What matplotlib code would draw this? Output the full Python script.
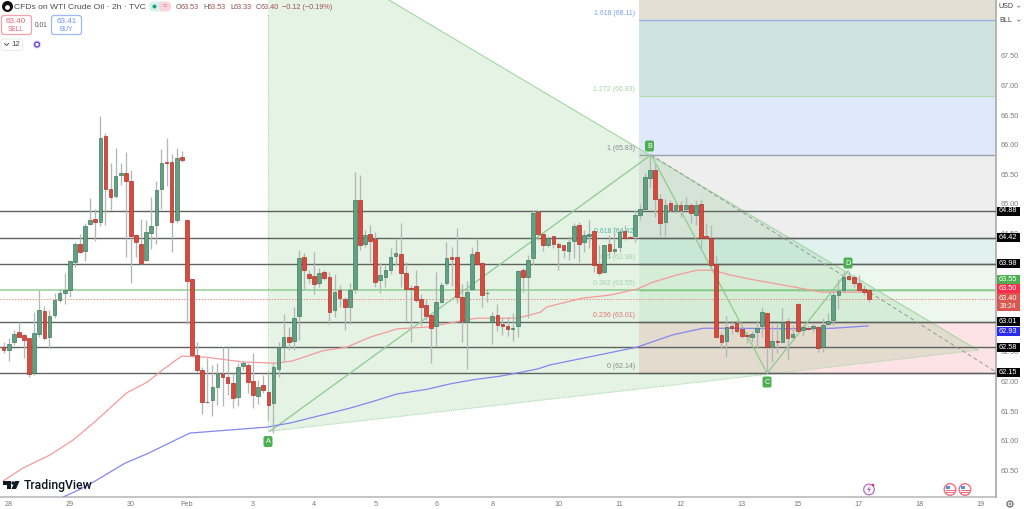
import matplotlib
matplotlib.use("Agg")
import matplotlib.pyplot as plt
from matplotlib.patches import Rectangle, FancyBboxPatch, Circle, Polygon

plt.rcParams['font.family'] = ['Liberation Sans', 'DejaVu Sans']

# ---- data ----
opens = [62.58,62.53,62.66,62.83,62.78,62.73,62.14,62.81,63.19,62.75,
63.12,63.38,63.50,63.55,64.02,64.33,64.21,64.66,64.74,64.70,
66.14,65.26,65.14,65.48,65.53,65.39,64.47,64.33,64.05,64.51,
64.65,65.26,65.71,65.70,64.72,65.79,64.73,63.73,62.45,62.20,
61.66,61.68,61.91,62.12,62.07,61.97,61.74,62.27,62.28,62.01,
61.76,61.94,61.82,61.63,62.22,62.59,62.75,62.69,63.11,64.10,
63.81,63.79,63.67,63.85,63.76,63.20,63.54,63.39,63.26,63.56,
65.07,64.33,64.50,64.41,63.71,63.77,63.89,64.12,64.15,63.83,
63.58,63.61,63.39,63.29,63.13,62.94,63.35,63.66,64.10,64.10,
63.42,63.01,63.56,64.18,64.01,63.49,63.00,63.13,62.98,62.94,
62.89,62.93,63.88,63.77,64.08,64.87,64.50,64.31,64.45,64.33,
64.30,64.21,64.37,64.64,64.35,64.46,64.54,63.98,63.85,64.32,
64.21,64.27,64.55,64.44,64.45,64.81,64.92,65.43,65.57,65.09,
64.70,65.01,64.89,64.99,64.92,64.99,64.82,65.00,64.46,64.43,
63.98,62.78,62.68,62.94,62.99,62.88,62.79,62.76,62.83,62.93,
63.16,62.60,62.69,62.67,63.03,62.75,63.31,62.87,62.90,62.91,
62.92,62.58,62.97,63.04,63.47,63.55,63.78,63.76,63.67,63.57,
63.54]
closes = [62.54,62.64,62.81,62.76,62.71,62.13,62.82,63.20,62.73,63.10,
63.38,63.49,63.55,64.03,64.32,64.19,64.63,64.73,64.70,66.12,
65.25,65.12,65.47,65.52,65.38,64.46,64.35,64.01,64.52,64.63,
65.24,65.69,65.69,64.69,65.77,65.74,63.69,62.44,62.20,61.66,
61.65,61.90,62.13,62.07,61.97,61.72,62.24,62.32,61.99,61.78,
61.90,61.85,61.61,62.24,62.58,62.76,62.66,63.08,64.08,63.89,
63.75,63.65,63.84,63.75,63.18,63.52,63.41,63.26,63.54,65.07,
64.31,64.47,64.38,63.68,63.80,63.88,64.11,64.17,63.84,63.56,
63.57,63.38,63.26,63.11,62.91,63.35,63.63,64.08,64.07,63.42,
63.03,63.52,64.15,63.98,63.47,63.49,63.10,62.95,62.94,62.89,
62.90,63.86,63.76,64.06,64.85,64.50,64.31,64.42,64.32,64.28,
64.22,64.35,64.63,64.33,64.47,64.50,63.97,63.83,64.30,64.20,
64.24,64.52,64.42,64.43,64.81,64.92,65.45,65.58,65.08,64.68,
64.99,64.89,64.99,64.90,64.98,64.85,64.98,64.43,64.42,63.96,
62.76,62.67,62.92,62.90,62.86,62.77,62.77,62.81,62.91,63.17,
62.59,62.68,62.66,63.01,62.73,62.80,62.86,62.92,62.89,62.94,
62.57,62.95,63.03,63.46,63.53,63.77,63.73,63.66,63.54,63.52,
63.40]
highs = [62.67,62.73,62.87,63.01,62.81,62.73,63.18,63.54,63.27,63.21,
63.49,63.57,63.84,64.05,64.36,64.49,64.68,65.10,64.92,66.49,
66.20,65.69,65.94,65.69,65.87,65.58,64.50,64.74,64.72,65.12,
65.38,65.92,66.12,65.85,65.94,65.89,64.74,63.74,62.66,62.25,
62.39,62.28,62.31,62.58,62.58,62.14,62.31,62.34,62.31,62.48,
62.03,62.11,62.17,62.32,62.67,63.14,62.92,63.26,64.22,64.17,
63.89,64.18,63.91,63.88,63.85,63.81,63.63,63.43,63.66,65.54,
65.48,64.56,64.65,64.53,64.01,63.97,64.26,64.43,64.68,64.02,
63.63,63.88,63.48,63.40,63.15,63.85,63.68,64.35,64.27,64.59,
63.64,63.69,64.27,64.42,64.02,63.57,63.18,63.31,63.07,63.09,
63.15,63.89,63.91,64.14,64.90,64.90,64.50,64.45,64.46,64.35,
64.30,64.46,64.67,64.70,64.56,64.73,64.56,64.30,64.30,64.47,
64.61,64.57,64.64,64.45,64.90,65.00,65.52,65.83,65.68,65.17,
65.09,65.07,65.04,65.05,65.12,65.01,65.07,65.08,64.67,64.64,
64.14,62.84,63.10,63.01,63.04,62.94,62.84,62.85,63.04,63.26,
63.17,62.95,62.98,63.24,63.07,62.95,63.32,62.95,62.93,62.98,
62.93,63.08,63.15,63.53,63.74,63.87,63.86,63.80,63.80,63.63,
63.56]
lows = [62.48,62.35,62.62,62.75,62.39,62.08,62.11,62.76,62.70,62.56,
63.07,63.35,63.31,63.43,63.93,64.17,64.04,64.64,64.37,64.63,
64.64,64.90,65.10,65.32,64.11,63.66,64.11,63.99,64.04,64.24,
64.32,64.91,65.30,64.19,64.68,65.70,62.98,62.42,62.16,61.45,
61.64,61.41,61.60,61.59,61.77,61.55,61.59,62.20,61.80,61.56,
61.62,61.80,61.35,61.13,62.08,62.35,62.53,62.54,62.70,63.54,
63.67,63.48,63.60,63.71,62.97,63.09,63.26,62.87,62.98,63.49,
64.22,64.28,64.02,63.60,63.49,63.60,63.81,63.97,63.59,63.03,
62.67,63.35,62.94,63.04,62.32,62.60,63.33,63.63,63.61,63.32,
62.67,62.22,63.54,63.97,63.26,63.35,62.63,62.86,62.79,62.77,
62.69,62.76,63.52,63.07,63.97,64.39,64.21,64.27,64.25,63.88,
64.08,64.06,64.08,64.02,64.19,64.25,63.85,63.80,63.83,64.08,
64.16,64.19,64.39,64.42,64.36,64.73,64.90,65.29,64.78,64.45,
64.45,64.87,64.84,64.78,64.90,64.67,64.64,64.22,64.39,63.94,
62.73,62.56,62.42,62.81,62.82,62.73,62.65,62.67,62.56,62.76,
62.15,62.33,62.48,62.66,62.37,62.73,62.86,62.77,62.87,62.84,
62.50,62.50,62.95,62.95,63.22,63.50,63.71,63.60,63.52,63.46,
63.35]

red_ma_x = [-0.1,3.8,9.1,13.6,17.9,24.2,28.2,30.7,33.3,35.0,39.9,47.0,53.7,56.8,62.7,67.4,72.0,
            77.3,83.2,87.7,93.0,100.8,102.8,105.4,106.7,113.8,119.1,124.4,127.6,132.3,136.2,139.4,
            142.7,146.6,153.1,160.8,168.8,170.0]
red_ma_y = [60.32,60.54,60.76,61.01,61.32,61.81,61.99,62.16,62.33,62.43,62.41,62.33,62.31,62.35,62.52,62.58,62.75,
            62.89,62.92,62.99,63.07,63.07,63.11,63.17,63.26,63.41,63.46,63.56,63.68,63.80,63.88,63.88,
            63.80,63.73,63.63,63.51,63.51,63.51]
blue_ma_x = [11.7,15.0,17.6,23.8,28.2,33.7,36.6,51.7,54.3,56.3,68.0,72.0,77.3,83.2,87.7,92.2,97.5,
             104.8,107.3,124.4,131.5,137.4,143.3,157.8,163.0,169.8]
blue_ma_y = [60.05,60.18,60.30,60.62,60.78,61.01,61.13,61.23,61.27,61.30,61.55,61.65,61.79,61.87,61.96,62.03,62.09,
             62.21,62.28,62.58,62.79,62.90,62.90,62.89,62.90,62.94]

hlines = [64.88, 64.42, 63.98, 63.01, 62.58, 62.15]
green_hline = 63.55
last_price = 63.40
fib_levels = [62.14, 63.01, 63.98, 64.42, 65.83, 66.83, 68.11, 68.444]
fib_colors = ['#fde3e5', '#eef7ee', '#e0f1ee', '#eeeeee', '#dfe9fb', '#cfe3df', '#e3dfd3']
fib_labels = ['0 (62.14)', '0.236 (63.01)', '0.382 (63.55)', '0.5 (63.98)', '0.618 (64.42)',
              '1 (65.83)', '1.272 (66.83)', '1.618 (68.11)']
fib_label_prices = [62.14, 63.01, 63.55, 63.98, 64.42, 65.83, 66.83, 68.11]
fib_label_colors = ['#8a8a8a', '#e57373', '#a5d6a7', '#a5d6a7', '#4db6ac', '#8a8a8a', '#a5d6a7', '#7aa2f7']
fib_line_colors = ['#6f6f6f', '#6f6f6f', '#66bb6a', '#6f6f6f', '#6f6f6f', '#a0a0a8', '#b5dcb8', '#93b4e4']

point_a = (52.3, 61.16)
point_b = (127.2, 65.83)
point_c = (150.0, 62.14)
point_d = (165.9, 63.87)
point_x = (51.9, 69.66)
apex = (191.4, 62.53)
dash_end = (195.0, 62.16)

price_ticks = [60.5, 61, 61.5, 62, 62.5, 64.5, 65, 65.5, 66, 66.5, 67, 67.5]
day_pos = [1, 13, 25, 36, 49, 61, 73, 85, 96, 109, 121, 133, 145, 156, 168, 180, 192]
day_labels = ['28', '29', '30', 'Feb', '3', '4', '5', '6', '8', '10', '11', '12', '13', '15', '17', '18', '19']

# ---- figure ----
W, H = 1024, 509
fig = plt.figure(figsize=(W / 100, H / 100), dpi=100, facecolor='white')
ax = fig.add_axes([0, 12 / H, 996 / W, 497 / H])
ax.set_xlim(-0.72, 194.96)
ax.set_ylim(60.05, 68.444)
ax.set_facecolor('white')

# fib bands
fib_x0 = 124.8
for lo, hi, col in zip(fib_levels[:-1], fib_levels[1:], fib_colors):
    ax.axhspan(lo, hi, xmin=(fib_x0 + 0.72) / 195.68, xmax=1, color=col, lw=0, zorder=1)
for lvl, col in zip([62.14, 63.01, 63.55, 63.98, 64.42, 65.83, 66.83, 68.11], fib_line_colors):
    ax.hlines(lvl, fib_x0, 194.96, color=col, lw=1.0, zorder=1.5)

# triangle
ax.add_patch(Polygon([point_x, apex, point_a], closed=True, facecolor='#4caf50', alpha=0.15, lw=0, zorder=2))
ax.plot([point_x[0], apex[0]], [point_x[1], apex[1]], color='#a5d6a7', lw=0.8, zorder=2.2)
ax.plot([point_a[0], apex[0]], [point_a[1], apex[1]], color='#a5d6a7', lw=0.8, ls=(0, (1, 1)), zorder=2.2)
ax.plot([point_x[0], point_x[0]], [61.16, 68.2], color='#a5d6a7', lw=0.8, ls=(0, (1, 1)), zorder=2.2)

# horizontal levels
for p in hlines:
    ax.axhline(p, color='#5f6360', lw=1.0, zorder=3)
ax.axhline(green_hline, color='#8fcf92', lw=1.1, zorder=3)
ax.axhline(last_price, color='#ef8a80', lw=0.7, ls=(0, (1.5, 1.5)), zorder=3)

# fib labels
for txt, p, c in zip(fib_labels, fib_label_prices, fib_label_colors):
    ax.annotate(txt, (fib_x0, p), xytext=(-3.5, 3), textcoords='offset pixels', ha='right', va='bottom',
                fontsize=5.0, color=c, zorder=3.5)

# pattern lines
ax.plot([point_a[0], point_b[0], point_c[0], point_d[0]], [point_a[1], point_b[1], point_c[1], point_d[1]],
        color='#8ccb8f', lw=0.9, zorder=3.6)
ax.plot([point_b[0], dash_end[0]], [point_b[1], dash_end[1]], color='#8f9a90', lw=0.7, ls=(0, (4, 3)), zorder=3.6)

# moving averages
ax.plot(red_ma_x, red_ma_y, color='#f49a9a', lw=0.9, zorder=4)
ax.plot(blue_ma_x, blue_ma_y, color='#8586f0', lw=0.9, zorder=4)

# candles
xs = list(range(len(opens)))
up = [c >= o for o, c in zip(opens, closes)]
ax.vlines(xs, lows, highs, color='#b4b8b4', lw=0.95, zorder=4.5)
for x, o, c, u in zip(xs, opens, closes, up):
    lo, hi = min(o, c), max(o, c)
    ax.add_patch(Rectangle((x - 0.36, lo), 0.72, max(hi - lo, 0.012),
                           facecolor='#63a083' if u else '#d84a3e',
                           edgecolor='#3f7a60' if u else '#a9342c', lw=0.5, zorder=5))

# axes
for s in ['top', 'left']:
    ax.spines[s].set_visible(False)
ax.spines['right'].set_color('#b4b4b4')
ax.spines['right'].set_linewidth(1.4)
ax.spines['bottom'].set_color('#b4b4b4')
ax.spines['bottom'].set_linewidth(1.1)
ax.yaxis.tick_right()
ax.set_yticks(price_ticks)
ax.set_yticklabels([f'{p:.2f}' for p in price_ticks], fontsize=5.2, color='#7b7b7b')
ax.set_xticks(day_pos)
ax.set_xticklabels(day_labels, fontsize=5.2, color='#7b7b7b')
ax.tick_params(length=0, pad=3)

# ---- overlay in pixel coordinates ----
ov = fig.add_axes([0, 0, 1, 1], facecolor='none')
ov.set_xlim(0, W)
ov.set_ylim(H, 0)
ov.axis('off')


def tag(yc, txt, color):
    ov.add_patch(Rectangle((996.5, yc - 4.5), 23.5, 9, facecolor=color, lw=0, zorder=10))
    ov.text(1008.2, yc, txt, ha='center', va='center', fontsize=5.3, color='white', zorder=11)


for txt, yc in [('64.88', 211), ('64.42', 237.5), ('63.98', 263.5), ('63.01', 321.5),
                ('62.58', 347.5), ('62.15', 372.5)]:
    tag(yc, txt, '#050505')
tag(331.5, '62.93', '#2b2bf0')
tag(279.5, '63.55', '#4caf50')
tag(288.5, '63.50', '#fb2c4c')
ov.add_patch(Rectangle((996.5, 293), 23.5, 18, facecolor='#d9574e', lw=0, zorder=10))
ov.text(1008.2, 298, '63.40', ha='center', va='center', fontsize=5.3, color='white', zorder=11)
ov.text(1008.2, 306.5, '39:24', ha='center', va='center', fontsize=4.8, color='white', zorder=11)

# pattern point markers
for name, x, y in [('A', 268, 441.5), ('B', 649.5, 146), ('C', 767, 382), ('D', 848, 263)]:
    ov.add_patch(FancyBboxPatch((x - 3, y - 4), 6, 8, boxstyle='round,pad=1.5,rounding_size=2',
                                facecolor='#4caf50', edgecolor='none', zorder=8))
    ov.text(x, y + 0.3, name, ha='center', va='center', fontsize=5.2, color='white', zorder=9)

# header
ov.add_patch(Circle((7.5, 6.5), 5.5, facecolor='#111111', lw=0))
ov.add_patch(Circle((7.5, 7.5), 2.4, facecolor='white', lw=0))
ov.text(14, 7, 'CFDs on WTI Crude Oil · 2h · TVC', fontsize=6.1, color='#4a4a4a', va='center', ha='left')
ov.add_patch(FancyBboxPatch((149, 1.5), 19, 10, boxstyle='round,pad=0,rounding_size=4.5', facecolor='#d9f1ec', lw=0))
ov.add_patch(FancyBboxPatch((159, 1.5), 12, 10, boxstyle='round,pad=0,rounding_size=4.5', facecolor='#fbd5dc', lw=0))
ov.add_patch(Circle((154.5, 6.5), 2, facecolor='#1a9e86', lw=0))
ov.text(164.5, 6.5, '=', fontsize=5.5, color='#e8617d', ha='center', va='center')
x_pos = [176, 203, 230, 256]
for label, val, xp in zip(['O', 'H', 'L', 'C'], ['63.53', '63.53', '63.33', '63.40'], x_pos):
    ov.text(xp, 7, label, fontsize=5.2, color='#5a5a5a', va='center', ha='left')
    ov.text(xp + (5 if label != 'L' else 3.6), 7, val, fontsize=5.2, color='#a25050', va='center', ha='left')
ov.text(282, 7, '−0.12 (−0.19%)', fontsize=5.2, color='#a25050', va='center', ha='left')

ov.add_patch(FancyBboxPatch((1.5, 15.5), 30, 19, boxstyle='round,pad=0,rounding_size=2.5',
                            facecolor='white', edgecolor='#f5a0ac', lw=0.9))
ov.text(16, 21, '63.40', fontsize=5.8, color='#ef5f73', ha='center', va='center')
ov.text(16, 29, 'SELL', fontsize=4.8, color='#ef5f73', ha='center', va='center')
ov.text(41, 25, '0.01', fontsize=4.8, color='#555555', ha='center', va='center')
ov.add_patch(FancyBboxPatch((51.5, 15.5), 30, 19, boxstyle='round,pad=0,rounding_size=2.5',
                            facecolor='white', edgecolor='#9db8f5', lw=0.9))
ov.text(66.5, 21, '63.41', fontsize=5.8, color='#6b93f0', ha='center', va='center')
ov.text(66.5, 29, 'BUY', fontsize=4.8, color='#6b93f0', ha='center', va='center')
ov.add_patch(FancyBboxPatch((1, 39), 21.5, 11.5, boxstyle='round,pad=0,rounding_size=2',
                            facecolor='white', edgecolor='#e6e6e6', lw=0.6))
ov.plot([4.5, 6.5, 8.5], [43.5, 45.5, 43.5], color='#555555', lw=0.7)
ov.text(16, 44.8, '12', fontsize=5.6, color='#444444', ha='center', va='center')
ov.add_patch(Circle((37, 44.5), 4.2, facecolor='#e4dcfb', lw=0))
ov.add_patch(Circle((37, 44.5), 2.4, facecolor='white', edgecolor='#6a45d8', lw=1.0))

# scale buttons
ov.text(1006, 6.5, 'USD', fontsize=5.2, color='#444444', ha='center', va='center', zorder=11)
ov.text(1006, 20.5, 'BLL', fontsize=5.2, color='#444444', ha='center', va='center', zorder=11)
ov.plot([1017.5, 1018.7, 1020], [6, 7.2, 6], color='#666666', lw=0.5)
ov.plot([1017.5, 1018.7, 1020], [20, 21.2, 20], color='#666666', lw=0.5)

# TradingView mark
ov.add_patch(Polygon([(3, 481), (11, 481), (11, 489), (7, 489), (7, 484.5), (3, 484.5)], facecolor='#131722', lw=0))
ov.add_patch(Circle((13, 483), 1.7, facecolor='#131722', lw=0))
ov.add_patch(Polygon([(15, 481), (19.5, 481), (16, 489), (11.5, 489)], facecolor='#131722', lw=0))
ov.text(24, 485, 'TradingView', fontsize=8.8, fontweight='medium', color='#131722', va='center', ha='left',
        family=['Roboto', 'Liberation Sans'])

# bottom-right icons
ov.add_patch(Circle((869, 489.5), 5.3, facecolor='white', edgecolor='#b36bd4', lw=0.9))
ov.add_patch(Polygon([(870, 485.5), (867, 490), (869, 490), (868, 493.5), (871.2, 488.8), (869.2, 488.8)],
                     facecolor='#b36bd4', lw=0))
ov.add_patch(Circle((873, 485), 1.3, facecolor='#f23645', lw=0))
for cx in [950, 965]:
    ov.add_patch(Circle((cx, 489.5), 5.8, facecolor='white', edgecolor='#f26d7d', lw=1.0))
    ov.add_patch(Rectangle((cx - 4.5, 489.5), 9, 1.6, facecolor='#f26d7d', lw=0))
    ov.add_patch(Rectangle((cx - 4.5, 492), 9, 1.2, facecolor='#f26d7d', lw=0))
    ov.add_patch(Rectangle((cx - 4.5, 486), 4.8, 3.4, facecolor='#5b8fe0', lw=0))
ov.add_patch(Circle((1010, 504), 3.0, facecolor='white', edgecolor='#6a6a6a', lw=0.9))
ov.add_patch(Circle((1010, 504), 1.0, facecolor='white', edgecolor='#6a6a6a', lw=0.5))

fig.savefig('out.png', dpi=100)
